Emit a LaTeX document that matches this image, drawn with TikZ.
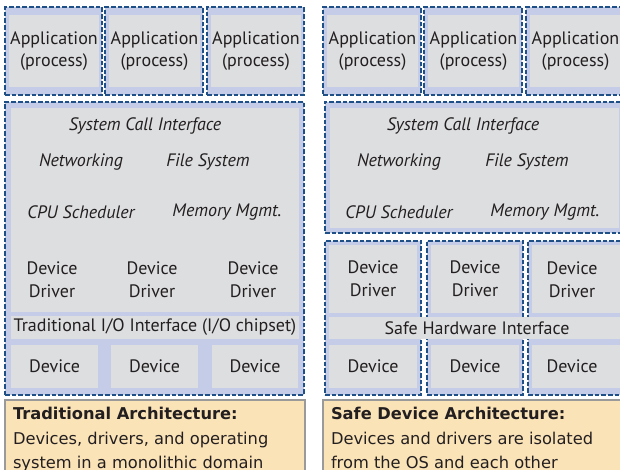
\documentclass[tikz,border=0pt]{standalone}
\usepackage{fontspec}
\usetikzlibrary{fit}
\newfontfamily\labelfont{PT Sans}
\newfontfamily\notefont{DejaVu Sans}
\definecolor{shell}{HTML}{C4CCE8}
\definecolor{core}{HTML}{DDDEE0}
\definecolor{edge}{HTML}{1F4F87}
\definecolor{note}{HTML}{FBE3B8}
\definecolor{noteedge}{HTML}{9A9A9A}
\definecolor{ink}{HTML}{231F20}
\tikzset{
  every node/.style={inner sep=0pt, outer sep=0pt, text=ink},
  shellbox/.style={draw=edge, line width=1.6pt, dash pattern=on 3.4pt off 1.6pt, fill=shell},
  corebox/.style={fill=core},
  plain/.style={font=\labelfont\fontsize{13.5}{17}\selectfont, align=center},
  ital/.style={font=\labelfont\itshape\fontsize{13.5}{17}\selectfont},
  notebox/.style={draw=noteedge, line width=0.8pt, fill=note},
  notetext/.style={font=\notefont\fontsize{12.2}{20}\selectfont, anchor=base west},
}
\begin{document}
\begin{tikzpicture}[x=0.75pt, y=-0.75pt]
\useasboundingbox (0,0) rectangle (620,470);
\clip (0,0) rectangle (620,470);

% ---------- traditional architecture ----------
% applications
\node[shellbox, fit={(5,7) (102,95)}] (la1) {};
\node[corebox, fit={(9,15) (99,87)}] (la1c) {};
\node[plain] (la1t) at (la1c.center) {Application\\(process)};
\node[shellbox, fit={(105,7) (203,95)}] (la2) {};
\node[corebox, fit={(109,15) (200,87)}] (la2c) {};
\node[plain] (la2t) at (la2c.center) {Application\\(process)};
\node[shellbox, fit={(207,7) (304,95)}] (la3) {};
\node[corebox, fit={(211,15) (301,87)}] (la3c) {};
\node[plain] (la3t) at (la3c.center) {Application\\(process)};

% kernel with drivers and devices
\node[shellbox, fit={(5,102) (304,395)}] (lk) {};
\node[corebox, fit={(11,108) (299,312)}] (lkc) {};
\node[ital] (lsci) at (145,126) {System Call Interface};
\node[ital] (lnet) at (81,162) {Networking};
\node[ital] (lfs)  at (208,162) {File System};
\node[ital] (lcpu) at (81,212) {CPU Scheduler};
\node[ital] (lmem) at (227,212) {Memory Mgmt.};
\node[plain] (ld1) at (52,280) {Device\\Driver};
\node[plain] (ld2) at (152,280) {Device\\Driver};
\node[plain] (ld3) at (253,280) {Device\\Driver};
\node[corebox, fit={(11,316) (299,339)}] (lio) {};
\node[plain] (liot) at (lio.center) {Traditional I/O Interface (I/O chipset)};
\node[corebox, fit={(11,345) (98,388)}] (ldev1) {};
\node[plain] (ldev1t) at (ldev1.center) {Device};
\node[corebox, fit={(111,345) (198,388)}] (ldev2) {};
\node[plain] (ldev2t) at (ldev2.center) {Device};
\node[corebox, fit={(212,345) (298,388)}] (ldev3) {};
\node[plain] (ldev3t) at (ldev3.center) {Device};

% caption
\node[notebox, fit={(5,400) (305,475)}] (lnote) {};
\node[notetext] (lnote1) at (13,419) {\textbf{Traditional Architecture:}};
\node[notetext] (lnote2) at (13,444.5) {Devices, drivers, and operating};
\node[notetext] (lnote3) at (13,468) {system in a monolithic domain};

% ---------- safe device architecture ----------
% applications
\node[shellbox, fit={(323,7) (421,95)}] (ra1) {};
\node[corebox, fit={(327,15) (418,87)}] (ra1c) {};
\node[plain] (ra1t) at (ra1c.center) {Application\\(process)};
\node[shellbox, fit={(424,7) (522,95)}] (ra2) {};
\node[corebox, fit={(428,15) (519,87)}] (ra2c) {};
\node[plain] (ra2t) at (ra2c.center) {Application\\(process)};
\node[shellbox, fit={(526,7) (624,95)}] (ra3) {};
\node[corebox, fit={(530,15) (621,87)}] (ra3c) {};
\node[plain] (ra3t) at (ra3c.center) {Application\\(process)};

% kernel
\node[shellbox, fit={(325,102) (624,233)}] (rk) {};
\node[corebox, fit={(330,108) (619,228)}] (rkc) {};
\node[ital] (rsci) at (463,126) {System Call Interface};
\node[ital] (rnet) at (399,162) {Networking};
\node[ital] (rfs)  at (527,162) {File System};
\node[ital] (rcpu) at (399,212) {CPU Scheduler};
\node[ital] (rmem) at (545,212) {Memory Mgmt.};

% isolated driver/device columns
\node[shellbox, fit={(325,241) (421,395)}] (rc1) {};
\node[shellbox, fit={(427,241) (523,395)}] (rc2) {};
\node[shellbox, fit={(528,241) (624,395)}] (rc3) {};
\node[corebox, fit={(329,245) (417,313)}] (rd1) {};
\node[plain] (rd1t) at (rd1.center) {Device\\Driver};
\node[corebox, fit={(431,245) (519,313)}] (rd2) {};
\node[plain] (rd2t) at (rd2.center) {Device\\Driver};
\node[corebox, fit={(532,245) (620,313)}] (rd3) {};
\node[plain] (rd3t) at (572,280) {Device\\Driver};
\node[corebox, fit={(329,317) (624,339)}] (rhw) {};
\node[plain] (rhwt) at (477,328) {Safe Hardware Interface};
\node[corebox, fit={(329,345) (417,388)}] (rdev1) {};
\node[plain] (rdev1t) at (rdev1.center) {Device};
\node[corebox, fit={(431,345) (519,388)}] (rdev2) {};
\node[plain] (rdev2t) at (rdev2.center) {Device};
\node[corebox, fit={(532,345) (620,388)}] (rdev3) {};
\node[plain] (rdev3t) at (572,366) {Device};

% caption
\node[notebox, fit={(323,400) (624,475)}] (rnote) {};
\node[notetext] (rnote1) at (331,419) {\textbf{Safe Device Architecture:}};
\node[notetext] (rnote2) at (331,444.5) {Devices and drivers are isolated};
\node[notetext] (rnote3) at (331,468) {from the OS and each other};
\end{tikzpicture}
\end{document}
